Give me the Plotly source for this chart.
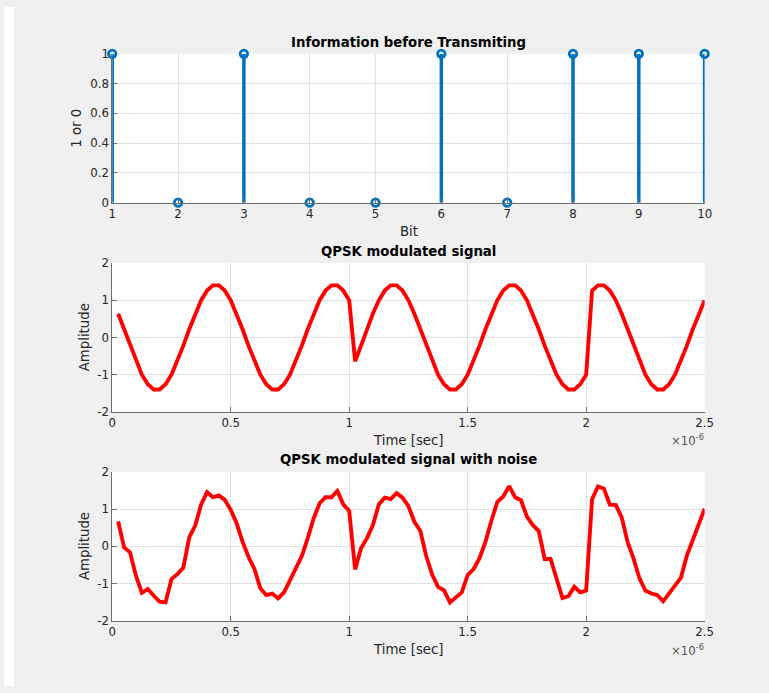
import plotly.graph_objects as go

W, H = 769, 693

# Transmitted bit sequence
bit_index = [1, 2, 3, 4, 5, 6, 7, 8, 9, 10]
bits = [1, 0, 1, 0, 0, 1, 0, 1, 1, 1]

# Sampling grid: 5 symbols x 20 samples, 0.025 us apart
sample_step = 0.025e-6
n_samples = 100
time_s = [k * sample_step for k in range(1, n_samples + 1)]

# QPSK waveform (clean)
qpsk_clean = [
    0.64, 0.22, -0.22, -0.64, -1.00, -1.26, -1.40, -1.40, -1.26, -1.00,
    -0.64, -0.22, 0.22, 0.64, 1.00, 1.26, 1.40, 1.40, 1.26, 1.00,
    0.64, 0.22, -0.22, -0.64, -1.00, -1.26, -1.40, -1.40, -1.26, -1.00,
    -0.64, -0.22, 0.22, 0.64, 1.00, 1.26, 1.40, 1.40, 1.26, 1.00,
    -0.64, -0.22, 0.22, 0.64, 1.00, 1.26, 1.40, 1.40, 1.26, 1.00,
    0.64, 0.22, -0.22, -0.64, -1.00, -1.26, -1.40, -1.40, -1.26, -1.00,
    -0.64, -0.22, 0.22, 0.64, 1.00, 1.26, 1.40, 1.40, 1.26, 1.00,
    0.64, 0.22, -0.22, -0.64, -1.00, -1.26, -1.40, -1.40, -1.26, -1.00,
    1.26, 1.40, 1.40, 1.26, 1.00, 0.64, 0.22, -0.22, -0.64, -1.00,
    -1.26, -1.40, -1.40, -1.26, -1.00, -0.64, -0.22, 0.22, 0.64, 1.00,
]

# QPSK waveform after the noisy channel
qpsk_noisy = [
    0.67, -0.03, -0.16, -0.79, -1.25, -1.15, -1.33, -1.49, -1.51, -0.88,
    -0.75, -0.57, 0.24, 0.56, 1.12, 1.46, 1.32, 1.37, 1.25, 0.98,
    0.62, 0.12, -0.28, -0.61, -1.13, -1.31, -1.27, -1.40, -1.24, -0.90,
    -0.58, -0.26, 0.22, 0.75, 1.16, 1.32, 1.32, 1.49, 1.13, 0.95,
    -0.62, -0.05, 0.22, 0.57, 1.13, 1.31, 1.27, 1.43, 1.31, 1.08,
    0.66, 0.42, -0.26, -0.76, -1.09, -1.18, -1.51, -1.38, -1.24, -0.77,
    -0.61, -0.32, 0.12, 0.69, 1.19, 1.34, 1.62, 1.32, 1.24, 0.80,
    0.57, 0.41, -0.34, -0.34, -0.86, -1.39, -1.34, -1.09, -1.24, -1.19,
    1.27, 1.61, 1.55, 1.12, 1.11, 0.78, 0.11, -0.33, -0.86, -1.19,
    -1.27, -1.31, -1.48, -1.27, -1.05, -0.84, -0.25, 0.16, 0.53, 1.01,
]

# Tick labels
level_ticks = [0, 0.2, 0.4, 0.6, 0.8, 1]
level_tick_text = ["0", "0.2", "0.4", "0.6", "0.8", "1"]
time_ticks = [0, 0.5e-6, 1.0e-6, 1.5e-6, 2.0e-6, 2.5e-6]
time_tick_text = ["0", "0.5", "1", "1.5", "2", "2.5"]
amp_ticks = [-2, -1, 0, 1, 2]
amp_tick_text = ["-2", "-1", "0", "1", "2"]

FONT = "DejaVu Sans"
BLUE = "#0072BD"
RED = "#FF0000"
AXIS = "#6E6E6E"
GRID = "#E2E2E2"
TEXT = "#262626"

# page framing: the figure sits inside an 8 px page border
PAGE_PAD = 8
KX = W / (W + 2 * PAGE_PAD)
KY = H / (H + 2 * PAGE_PAD)
KF = (KX + KY) / 2


def px_x(p):
    """window x position (px) -> paper fraction"""
    return (p / KX - PAGE_PAD) / W


def px_y(p):
    """window y position (px, from top) -> paper fraction"""
    return 1 - (p / KY - PAGE_PAD) / H


def fs(size):
    return round(size / KF, 2)


# stems: vertical segment from 0 to each bit value
stem_x, stem_y = [], []
for xi, b in zip(bit_index, bits):
    stem_x += [xi, xi, None]
    stem_y += [0, b, None]

fig = go.Figure()
fig.add_trace(go.Scatter(x=stem_x, y=stem_y, mode="lines",
                         line=dict(color=BLUE, width=3.5),
                         xaxis="x", yaxis="y", hoverinfo="skip"))
fig.add_trace(go.Scatter(x=bit_index, y=bits, mode="markers",
                         marker=dict(symbol="circle-open", size=7.5, color=BLUE,
                                     line=dict(width=2.8, color=BLUE)),
                         cliponaxis=False, xaxis="x", yaxis="y"))
fig.add_trace(go.Scatter(x=time_s, y=qpsk_clean, mode="lines",
                         line=dict(color=RED, width=3.9),
                         xaxis="x2", yaxis="y2"))
fig.add_trace(go.Scatter(x=time_s, y=qpsk_noisy, mode="lines",
                         line=dict(color=RED, width=3.9),
                         xaxis="x3", yaxis="y3"))

axis_style = dict(showline=True, linecolor=AXIS, linewidth=1, mirror=False,
                  showgrid=True, gridcolor=GRID, gridwidth=1, zeroline=False,
                  ticks="inside", ticklen=5, tickcolor=AXIS, tickwidth=1,
                  tickfont=dict(family=FONT, size=fs(11.5), color=TEXT))

x_dom = [px_x(115.7), px_x(706)]
dom1 = [px_y(203), px_y(54.5)]
dom2 = [px_y(411.7), px_y(263.3)]
dom3 = [px_y(620), px_y(471.7)]

fig.update_layout(
    width=W, height=H,
    margin=dict(l=0, r=0, t=0, b=0, pad=0),
    paper_bgcolor="#F0F0F0",
    plot_bgcolor="#FFFFFF",
    showlegend=False,
    xaxis=dict(domain=x_dom, anchor="y", range=[1, 10],
               tickvals=bit_index, ticktext=[str(v) for v in bit_index], **axis_style),
    yaxis=dict(domain=dom1, anchor="x", range=[0, 1],
               tickvals=level_ticks, ticktext=level_tick_text, **axis_style),
    xaxis2=dict(domain=x_dom, anchor="y2", range=[0, 2.5e-6],
                tickvals=time_ticks, ticktext=time_tick_text, **axis_style),
    yaxis2=dict(domain=dom2, anchor="x2", range=[-2, 2],
                tickvals=amp_ticks, ticktext=amp_tick_text, **axis_style),
    xaxis3=dict(domain=x_dom, anchor="y3", range=[0, 2.5e-6],
                tickvals=time_ticks, ticktext=time_tick_text, **axis_style),
    yaxis3=dict(domain=dom3, anchor="x3", range=[-2, 2],
                tickvals=amp_ticks, ticktext=amp_tick_text, **axis_style),
)

# white strip along the left edge of the window
fig.add_shape(type="rect", xref="paper", yref="paper", x0=0, x1=px_x(18), y0=0, y1=1,
              fillcolor="#FFFFFF", line=dict(width=0), layer="above")

cx = (115.7 + 706) / 2


def label(text, x, y, size=13, color=TEXT, angle=0, xanchor="center", yanchor="middle"):
    fig.add_annotation(text=text, x=px_x(x), y=px_y(y), xref="paper", yref="paper",
                       showarrow=False, textangle=angle, xanchor=xanchor, yanchor=yanchor,
                       font=dict(family=FONT, size=fs(size), color=color))


# titles
label("<b>Information before Transmiting</b>", cx, 43.3, size=13, color="#000000")
label("<b>QPSK modulated signal</b>", cx, 251.5, size=13, color="#000000")
label("<b>QPSK modulated signal with noise</b>", cx, 459, size=13, color="#000000")

# axis labels
label("Bit", 411.5, 231.7)
label("1 or 0", 80, 128.8, angle=-90)
label("Time [sec]", cx, 440.5)
label("Amplitude", 88.3, 337.5, angle=-90)
label("Time [sec]", cx, 648.5)
label("Amplitude", 88.3, 545.8, angle=-90)

# exponent markers for the time axes
label("\u00d710<sup>-6</sup>", 707, 440, size=11.5, color="#555555", xanchor="right")
label("\u00d710<sup>-6</sup>", 707, 649, size=11.5, color="#555555", xanchor="right")

fig.write_html("out.html")
